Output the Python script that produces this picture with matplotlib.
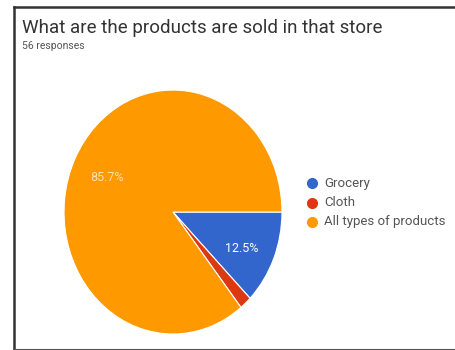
import matplotlib.pyplot as plt
from matplotlib.lines import Line2D

labels = ['Grocery', 'Cloth', 'All types of products']
counts = [7, 1, 48]
pct_labels = ['12.5%', '', '85.7%']
colors = ['#3366cc', '#dc3912', '#ff9900']

plt.rcParams['font.family'] = ['Roboto', 'DejaVu Sans']

fig = plt.figure(figsize=(4.55, 3.5), dpi=100)
ax = fig.add_axes([0.1407, 0.0457, 0.479, 0.697])

wedges, _ = ax.pie(counts, colors=colors, startangle=0, counterclock=False,
                   wedgeprops=dict(edgecolor='white', linewidth=0.8))
ax.set_aspect('auto')
ax.set_xlim(-1, 1)
ax.set_ylim(-1, 1)

# percentage labels
ax.text(0.63, -0.30, pct_labels[0], color='white', fontsize=9, ha='center', va='center')
ax.text(-0.61, 0.28, pct_labels[2], color='#ffe0b0', fontsize=9, ha='center', va='center')

# legend
for i, (lab, c) in enumerate(zip(labels, colors)):
    y = 1 - (183 + i * 19.5) / 350
    fig.add_artist(Line2D([312 / 455], [y], marker='o', markersize=7,
                          color=c, linestyle='none'))
    fig.text(324 / 455, y, lab, fontsize=9.5, color='#555555', va='center', ha='left')

fig.text(22 / 455, 1 - 28 / 350, 'What are the products are sold in that store',
         fontsize=13.5, color='#333333', va='center', ha='left')
fig.text(22 / 455, 1 - 46 / 350, '56 responses', fontsize=7.5, color='#555555',
         va='center', ha='left')

# screenshot frame
frame_col = '#333333'
fig.add_artist(Line2D([14 / 455, 14 / 455], [0, 1 - 7 / 350], color=frame_col, linewidth=1.8))
fig.add_artist(Line2D([14 / 455, 1], [1 - 7 / 350, 1 - 7 / 350], color=frame_col, linewidth=1.8))
fig.add_artist(Line2D([14 / 455, 1], [0.5 / 350, 0.5 / 350], color='#555555', linewidth=1.5))

fig.savefig('out.png', dpi=100)
